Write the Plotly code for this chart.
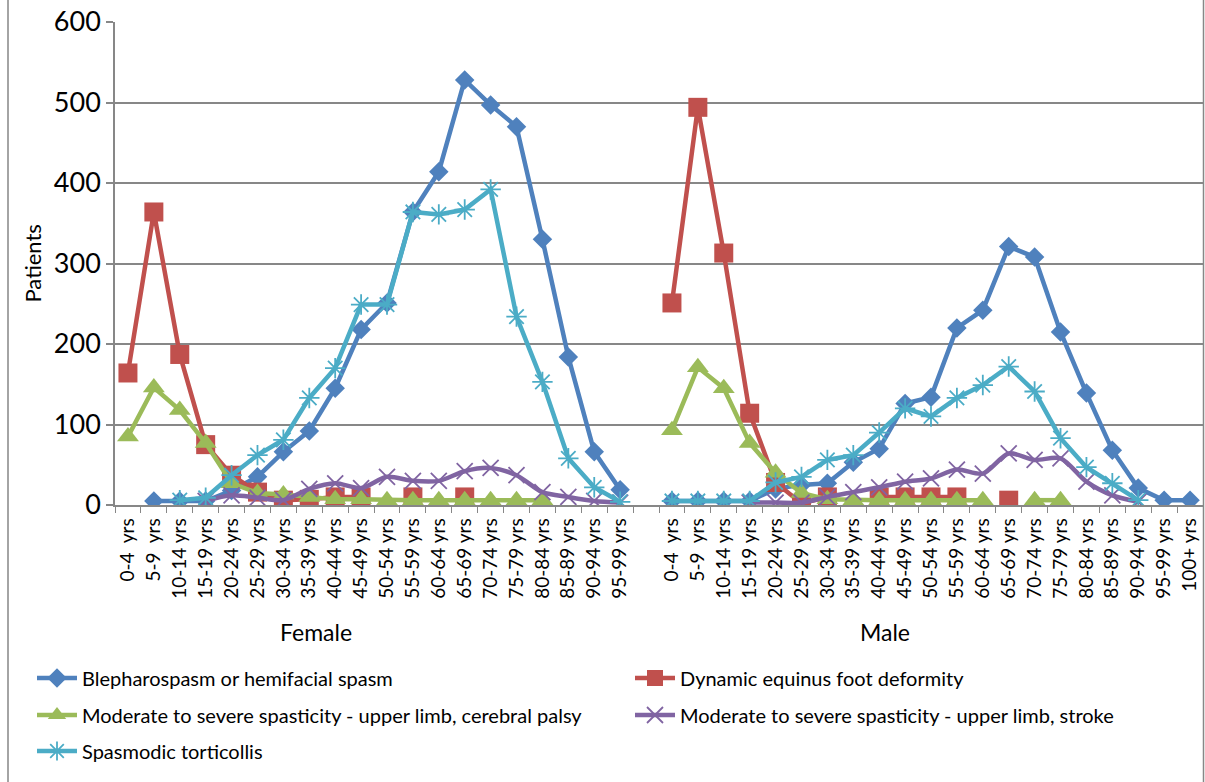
import plotly.graph_objects as go

female_ages = ["0-4\u00a0 yrs", "5-9\u00a0 yrs", "10-14 yrs", "15-19 yrs", "20-24 yrs", "25-29 yrs",
               "30-34 yrs", "35-39 yrs", "40-44 yrs", "45-49 yrs", "50-54 yrs", "55-59 yrs",
               "60-64 yrs", "65-69 yrs", "70-74 yrs", "75-79 yrs", "80-84 yrs", "85-89 yrs",
               "90-94 yrs", "95-99 yrs"]
male_ages = female_ages + ["100+ yrs"]
groups = ["Female", "Male"]

series_names = [
    "Blepharospasm or hemifacial spasm",
    "Dynamic equinus foot deformity",
    "Moderate to severe spasticity - upper limb, cerebral palsy",
    "Moderate to severe spasticity - upper limb, stroke",
    "Spasmodic torticollis",
]

blepharo_f = [None, 5, 5, 5, 18, 35, 66, 92, 145, 218, 251, 364, 414, 528, 497, 470, 330, 184, 66, 19]
blepharo_m = [5, 5, 5, 5, 20, 25, 27, 53, 70, 126, 134, 220, 242, 321, 308, 215, 139, 68, 21, 6, 6]

equinus_f = [164, 364, 187, 75, 37, 16, 6, 7, 10, 10, None, 10, None, 10, None, None, None, None, None, None]
equinus_m = [251, 494, 313, 114, 28, 2, 10, None, 10, 10, 10, 10, None, 6, None, None, None, None, None, None, None]

cp_f = [85, 146, 118, 77, 27, 15, 13, 10, 7, 7, 6, 6, 6, 6, 6, 6, 6, None, None, None]
cp_m = [93, 171, 145, 77, 40, 15, 7, 6, 6, 6, 6, 6, 6, None, 6, 6, None, None, None, None, None]

stroke_f = [None, None, None, 5, 12, 9, 6, 20, 27, 21, 35, 30, 30, 42, 46, 37, 16, 10, 5, 3]
stroke_m = [None, None, None, 3, 3, 3, 10, 16, 22, 29, 33, 44, 39, 64, 56, 58, 29, 12, 4, None, None]

tortic_f = [None, None, 6, 9, 37, 62, 81, 133, 170, 249, 249, 364, 361, 367, 392, 234, 153, 58, 22, 4]
tortic_m = [5, 5, 5, 5, 28, 35, 56, 62, 90, 120, 110, 133, 149, 172, 141, 83, 47, 27, 6, None, None]

colors = ["#4F81BD", "#C0504D", "#9BBB59", "#8064A2", "#4BACC6"]

# category positions: female, one empty slot, male
n_f = len(female_ages)
x_f = list(range(n_f))
x_m = list(range(n_f + 1, n_f + 1 + len(male_ages)))
x_all = x_f + [n_f] + x_m
labels = female_ages + male_ages
tickvals = x_f + x_m

def join(f, m):
    return f + [None] + m

data = [
    (join(blepharo_f, blepharo_m), dict(symbol="diamond", size=15, color=colors[0]), "linear"),
    (join(equinus_f, equinus_m), dict(symbol="square", size=19, color=colors[1]), "linear"),
    (join(cp_f, cp_m), dict(symbol="triangle-up", size=19, color=colors[2]), "linear"),
    (join(stroke_f, stroke_m), dict(symbol="x-thin", size=16, color=colors[3],
                                    line=dict(color=colors[3], width=1.8)), "spline"),
    (join(tortic_f, tortic_m), dict(symbol="asterisk", size=17, color=colors[4],
                                    line=dict(color=colors[4], width=1.8)), "linear"),
]

FONT = "Lato, 'Liberation Sans', sans-serif"
fig = go.Figure()
legend_ids = ["legend", "legend2", "legend3", "legend4", "legend5"]
for i, (vals, marker, shape) in enumerate(data):
    fig.add_trace(go.Scatter(
        x=x_all, y=vals, mode="lines+markers", name=series_names[i],
        line=dict(color=colors[i], width=4.5, shape=shape, smoothing=0.8),
        marker=marker, connectgaps=False, legend=legend_ids[i], showlegend=True,
    ))

W, H = 1205, 782
L, R, T, B = 115, 2, 22, 277
pw, ph = W - L - R, H - T - B

def px(xp):
    return (xp - L) / pw

def py(yp):
    return (H - B - yp) / ph

legend_pos = [(32, 678), (630, 678), (32, 715), (630, 715), (32, 751)]
layout_legends = {}
for lid, (lx, ly) in zip(legend_ids, legend_pos):
    layout_legends[lid] = dict(x=px(lx), y=py(ly), xanchor="left", yanchor="middle",
                               bgcolor="rgba(0,0,0,0)", font=dict(family=FONT, size=20, color="#000"),
                               itemwidth=40, visible=True)

grey = "#878787"
fig.update_layout(
    width=W, height=H, margin=dict(l=L, r=R, t=T, b=B, autoexpand=False),
    paper_bgcolor="white", plot_bgcolor="white", showlegend=True,
    font=dict(family=FONT, color="#000"),
    xaxis=dict(range=[-0.5, len(x_all) - 0.5], tickmode="array", tickvals=tickvals, ticktext=labels,
               tickangle=-90, tickfont=dict(family=FONT, size=19), showgrid=False, zeroline=False,
               showline=True, linecolor=grey, linewidth=1.5, ticks="", ticklabelstandoff=4,
               automargin=False,
               minor=dict(tickmode="array", tickvals=[v - 0.5 for v in range(len(x_all) + 1)],
                          ticks="outside", ticklen=6, tickcolor=grey, tickwidth=1.2, showgrid=False)),
    yaxis=dict(range=[0, 600], dtick=100, tickfont=dict(family=FONT, size=27), showgrid=True,
               gridcolor=grey, gridwidth=1.5, zeroline=False, showline=True, linecolor=grey,
               linewidth=1.5, ticks="outside", ticklen=7, tickcolor=grey, tickwidth=1.5,
               ticklabelstandoff=0, automargin=False),
    **layout_legends,
)

fig.add_annotation(text="Patients", xref="paper", yref="paper", x=px(32), y=0.5, textangle=-90,
                   showarrow=False, font=dict(family=FONT, size=22), xanchor="center", yanchor="middle")
for g, gx in zip(groups, [316, 885]):
    fig.add_annotation(text=g, xref="paper", yref="paper", x=px(gx), y=py(632), showarrow=False,
                       font=dict(family=FONT, size=23), xanchor="center", yanchor="middle")

fig.add_shape(type="rect", xref="paper", yref="paper", x0=px(8), x1=px(1203.5), y0=py(800), y1=py(-20),
              line=dict(color=grey, width=1.5), fillcolor="rgba(0,0,0,0)", layer="below")

fig.write_html("out.html", config={"displayModeBar": False},
               post_script="document.body.style.margin='0';document.body.style.overflow='hidden';")
